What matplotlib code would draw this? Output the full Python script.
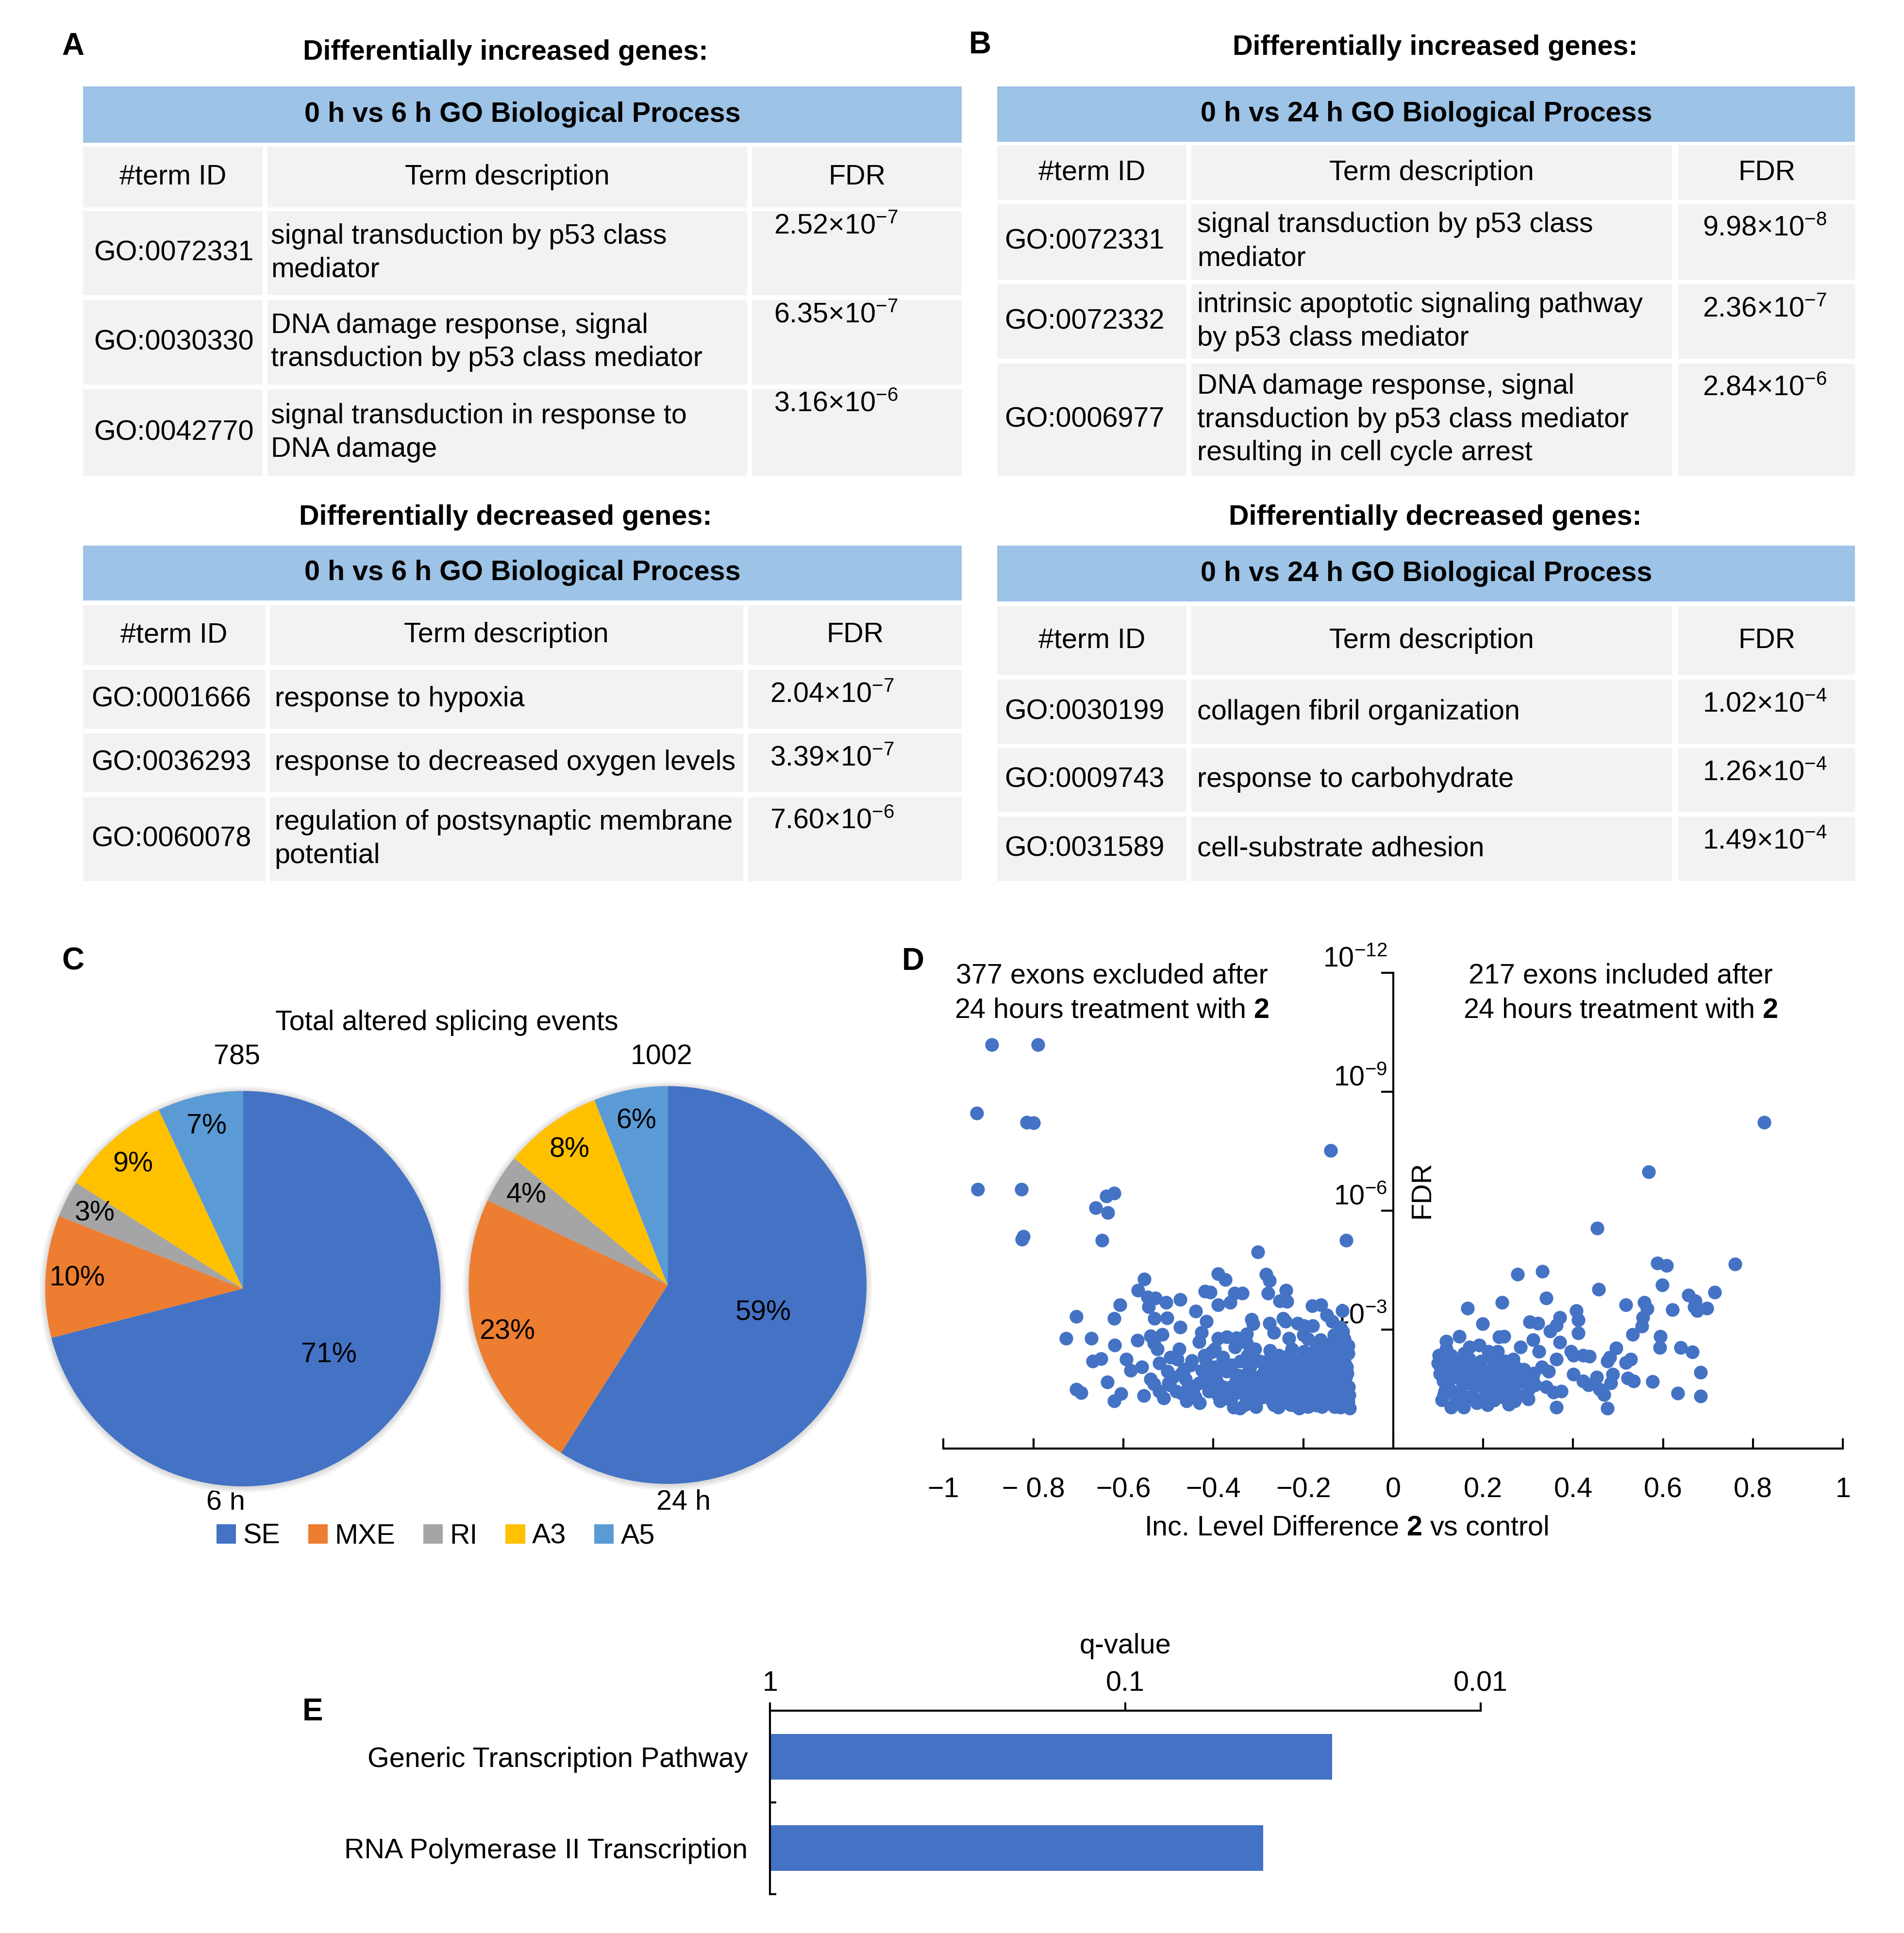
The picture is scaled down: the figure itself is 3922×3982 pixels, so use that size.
import numpy as np
import matplotlib.pyplot as plt
from matplotlib.patches import Rectangle, Patch, Circle
from matplotlib.ticker import NullLocator

plt.rcParams['font.family'] = ['Liberation Sans', 'DejaVu Sans']
plt.rcParams['mathtext.fontset'] = 'custom'
plt.rcParams['mathtext.rm'] = 'Liberation Sans'
plt.rcParams['mathtext.it'] = 'Liberation Sans:italic'
plt.rcParams['mathtext.bf'] = 'Liberation Sans:bold'
plt.rcParams['mathtext.default'] = 'regular'

# ---- data ----
# GO tables
a_up_ids = ['GO:0072331', 'GO:0030330', 'GO:0042770']
a_up_desc = ['signal transduction by p53 class\nmediator',
             'DNA damage response, signal\ntransduction by p53 class mediator',
             'signal transduction in response to\nDNA damage']
a_up_mant = [2.52, 6.35, 3.16]
a_up_exp = [-7, -7, -6]

a_dn_ids = ['GO:0001666', 'GO:0036293', 'GO:0060078']
a_dn_desc = ['response to hypoxia', 'response to decreased oxygen levels',
             'regulation of postsynaptic membrane\npotential']
a_dn_mant = [2.04, 3.39, 7.60]
a_dn_exp = [-7, -7, -6]

b_up_ids = ['GO:0072331', 'GO:0072332', 'GO:0006977']
b_up_desc = ['signal transduction by p53 class\nmediator',
             'intrinsic apoptotic signaling pathway\nby p53 class mediator',
             'DNA damage response, signal\ntransduction by p53 class mediator\nresulting in cell cycle arrest']
b_up_mant = [9.98, 2.36, 2.84]
b_up_exp = [-8, -7, -6]

b_dn_ids = ['GO:0030199', 'GO:0009743', 'GO:0031589']
b_dn_desc = ['collagen fibril organization', 'response to carbohydrate', 'cell-substrate adhesion']
b_dn_mant = [1.02, 1.26, 1.49]
b_dn_exp = [-4, -4, -4]

# splicing pies
splice_types = ['SE', 'MXE', 'RI', 'A3', 'A5']
pct_6h = [71, 10, 3, 9, 7]
pct_24h = [59, 23, 4, 8, 6]
total_events = [785, 1002]
time_points = ['6 h', '24 h']
pie_colors = ['#4472C4', '#ED7D31', '#A5A5A5', '#FFC000', '#5B9BD5']

# volcano: (inc. level difference, -log10 FDR)
excluded = [
    (-0.892, 10.18), (-0.790, 10.18), (-0.926, 8.46), (-0.815, 8.23), (-0.800, 8.21), (-0.139, 7.52),
    (-0.924, 6.54), (-0.827, 6.54), (-0.638, 6.36), (-0.620, 6.44), (-0.661, 6.07), (-0.634, 5.95),
    (-0.826, 5.28), (-0.822, 5.35), (-0.647, 5.25), (-0.104, 5.25), (-0.301, 4.96), (-0.389, 4.41),
    (-0.373, 4.26), (-0.283, 4.39), (-0.275, 4.23), (-0.554, 4.27), (-0.568, 3.99), (-0.546, 3.82),
    (-0.529, 3.79), (-0.505, 3.69), (-0.474, 3.76), (-0.419, 3.97), (-0.407, 3.94), (-0.353, 3.92),
    (-0.336, 3.92), (-0.278, 3.92), (-0.238, 3.99), (-0.252, 3.72), (-0.236, 3.71), (-0.608, 3.62),
    (-0.544, 3.57), (-0.389, 3.62), (-0.363, 3.69), (-0.180, 3.60), (-0.161, 3.62), (-0.113, 3.48),
    (-0.705, 3.33), (-0.621, 3.28), (-0.531, 3.28), (-0.503, 3.29), (-0.439, 3.46), (-0.415, 3.21),
    (-0.315, 3.26), (-0.312, 3.14), (-0.275, 3.16), (-0.245, 3.28), (-0.239, 3.21), (-0.212, 3.16),
    (-0.198, 3.10), (-0.179, 3.10), (-0.148, 3.36), (-0.136, 3.21), (-0.118, 3.06),
    (-0.727, 2.78), (-0.671, 2.78), (-0.619, 2.61), (-0.569, 2.73), (-0.540, 2.84), (-0.514, 2.88),
    (-0.474, 3.06), (-0.432, 2.69), (-0.426, 2.92), (-0.389, 2.78), (-0.397, 2.51), (-0.370, 2.81),
    (-0.349, 2.79), (-0.326, 2.89), (-0.326, 2.66), (-0.265, 2.92), (-0.232, 2.78), (-0.199, 2.86),
    (-0.190, 2.76), (-0.162, 2.74), (-0.157, 2.61), (-0.132, 2.86), (-0.109, 2.76), (-0.668, 2.20),
    (-0.650, 2.27), (-0.594, 2.25), (-0.584, 1.97), (-0.559, 2.05), (-0.532, 2.66), (-0.524, 2.51),
    (-0.520, 2.15), (-0.502, 1.95), (-0.495, 2.30), (-0.476, 2.51), (-0.465, 2.00), (-0.448, 2.22),
    (-0.425, 1.97), (-0.418, 2.25), (-0.404, 2.43), (-0.397, 2.05), (-0.379, 2.30), (-0.352, 2.56),
    (-0.359, 2.10), (-0.324, 2.35), (-0.318, 2.05), (-0.308, 2.51), (-0.297, 2.20), (-0.289, 1.90),
    (-0.274, 2.47), (-0.265, 2.15), (-0.249, 2.30), (-0.242, 2.00), (-0.225, 2.51), (-0.217, 2.15),
    (-0.203, 1.90), (-0.194, 2.35), (-0.180, 2.05), (-0.173, 2.51), (-0.159, 2.20), (-0.153, 1.90),
    (-0.143, 2.40), (-0.132, 2.05), (-0.124, 2.56), (-0.115, 2.25), (-0.107, 1.95), (-0.100, 2.40),
    (-0.705, 1.49), (-0.694, 1.41), (-0.636, 1.68), (-0.605, 1.38), (-0.621, 1.20), (-0.555, 1.34),
    (-0.532, 1.63), (-0.510, 1.27), (-0.497, 1.60), (-0.482, 1.44), (-0.462, 1.75), (-0.445, 1.49),
    (-0.432, 1.65), (-0.410, 1.44), (-0.393, 1.70), (-0.379, 1.55), (-0.359, 1.29), (-0.355, 1.04),
    (-0.341, 1.02), (-0.331, 1.65), (-0.318, 1.39), (-0.304, 1.19), (-0.294, 1.55), (-0.276, 1.70),
    (-0.269, 1.34), (-0.256, 1.04), (-0.245, 1.49), (-0.235, 1.24), (-0.225, 1.65), (-0.214, 1.39),
    (-0.209, 1.02), (-0.198, 1.19), (-0.187, 1.55), (-0.176, 1.29), (-0.169, 1.09), (-0.159, 1.70),
    (-0.153, 1.44), (-0.143, 1.14), (-0.135, 1.60), (-0.128, 1.29), (-0.118, 1.04), (-0.111, 1.75),
    (-0.104, 1.44), (-0.100, 1.19), (-0.097, 1.01),
    (-0.310, 1.80), (-0.300, 1.45), (-0.285, 2.05), (-0.280, 1.60), (-0.270, 1.20), (-0.260, 1.85),
    (-0.255, 2.35), (-0.250, 1.30), (-0.240, 1.75), (-0.230, 2.10), (-0.228, 1.10), (-0.220, 1.50),
    (-0.215, 1.85), (-0.205, 2.25), (-0.200, 1.35), (-0.195, 1.70), (-0.190, 1.05), (-0.185, 2.00),
    (-0.180, 1.45), (-0.175, 2.30), (-0.170, 1.80), (-0.165, 1.20), (-0.160, 2.45), (-0.155, 1.55),
    (-0.150, 2.10), (-0.145, 1.35), (-0.140, 1.85), (-0.138, 2.65), (-0.130, 1.05), (-0.125, 1.50),
    (-0.122, 2.00), (-0.120, 2.35), (-0.115, 1.70), (-0.110, 1.25), (-0.108, 2.15), (-0.105, 1.60),
    (-0.102, 1.90), (-0.100, 2.60), (-0.098, 1.35), (-0.112, 2.95), (-0.125, 1.12), (-0.135, 1.95),
    (-0.148, 1.65), (-0.158, 1.05), (-0.168, 2.15), (-0.178, 1.60), (-0.188, 1.25), (-0.198, 2.45),
    (-0.208, 1.60), (-0.218, 1.20), (-0.235, 1.95), (-0.245, 1.15), (-0.262, 1.55), (-0.275, 1.95),
    (-0.290, 1.30), (-0.305, 1.65), (-0.320, 1.15), (-0.335, 1.40), (-0.345, 1.85), (-0.360, 1.55),
    (-0.370, 1.95), (-0.385, 1.20), (-0.400, 1.55), (-0.420, 1.75), (-0.440, 1.30), (-0.455, 1.60),
    (-0.470, 1.40), (-0.490, 1.80), (-0.520, 1.45), (-0.540, 1.75),
    (-0.395, 1.85), (-0.380, 2.15), (-0.365, 1.25), (-0.350, 1.70), (-0.340, 2.20), (-0.330, 1.10),
    (-0.325, 1.90), (-0.315, 2.35), (-0.305, 1.05), (-0.295, 1.75), (-0.285, 1.40), (-0.275, 2.25),
    (-0.265, 1.10), (-0.260, 1.65), (-0.250, 2.05), (-0.240, 1.40), (-0.232, 2.35), (-0.222, 1.80),
    (-0.212, 1.05), (-0.205, 1.50), (-0.195, 2.15), (-0.185, 1.75), (-0.178, 1.10), (-0.172, 1.95),
    (-0.165, 1.45), (-0.155, 2.30), (-0.148, 1.15), (-0.142, 1.60), (-0.135, 2.20), (-0.128, 1.75),
    (-0.122, 1.35), (-0.118, 2.45), (-0.112, 1.10), (-0.106, 1.80), (-0.103, 2.05), (-0.099, 1.55),
    (-0.450, 2.10), (-0.430, 1.15), (-0.410, 2.00), (-0.390, 1.35), (-0.470, 1.90), (-0.500, 1.65),
    (-0.480, 2.25), (-0.460, 1.20), (-0.420, 2.35),
]
included = [
    (0.825, 8.23), (0.568, 6.98), (0.454, 5.56), (0.760, 4.65), (0.587, 4.68), (0.608, 4.61),
    (0.276, 4.40), (0.331, 4.47), (0.457, 4.02), (0.598, 4.13), (0.715, 3.94), (0.656, 3.87),
    (0.340, 3.79), (0.242, 3.69), (0.558, 3.69), (0.672, 3.72), (0.669, 3.57), (0.676, 3.48),
    (0.697, 3.54), (0.517, 3.62), (0.565, 3.52), (0.555, 3.31), (0.621, 3.50), (0.165, 3.54),
    (0.407, 3.48), (0.411, 3.24), (0.370, 3.31), (0.363, 3.11), (0.304, 3.19), (0.322, 3.16),
    (0.199, 3.14), (0.553, 3.09), (0.532, 2.88), (0.411, 2.91), (0.349, 2.96), (0.594, 2.83),
    (0.311, 2.74), (0.235, 2.81), (0.246, 2.83), (0.147, 2.83), (0.118, 2.71), (0.593, 2.54),
    (0.639, 2.54), (0.665, 2.43), (0.496, 2.53), (0.370, 2.68), (0.283, 2.56), (0.395, 2.45),
    (0.401, 2.35), (0.436, 2.32), (0.422, 2.35), (0.324, 2.45), (0.482, 2.30), (0.476, 2.20),
    (0.528, 2.25), (0.517, 2.17), (0.363, 2.25), (0.274, 2.03), (0.312, 1.90), (0.346, 1.95),
    (0.401, 1.87), (0.452, 1.80), (0.488, 1.87), (0.521, 1.77), (0.535, 1.70), (0.577, 1.69),
    (0.683, 1.92), (0.422, 1.70), (0.434, 1.60), (0.484, 1.65), (0.459, 1.49), (0.469, 1.36),
    (0.633, 1.39), (0.683, 1.32), (0.374, 1.44), (0.363, 1.04), (0.476, 1.02), (0.315, 1.60),
    (0.356, 1.42),
    (0.118, 2.51), (0.129, 2.35), (0.143, 2.15), (0.157, 1.95), (0.170, 2.25), (0.184, 2.05),
    (0.198, 1.80), (0.212, 2.45), (0.225, 2.15), (0.239, 1.90), (0.253, 1.65), (0.267, 2.25),
    (0.287, 1.80), (0.301, 1.49), (0.104, 1.89), (0.111, 1.70), (0.115, 1.44), (0.108, 1.22),
    (0.129, 1.04), (0.122, 1.55), (0.136, 1.80), (0.150, 1.39), (0.163, 1.65), (0.177, 1.29),
    (0.191, 1.60), (0.205, 1.39), (0.225, 1.22), (0.218, 1.65), (0.232, 1.49), (0.246, 1.29),
    (0.257, 1.11), (0.267, 1.49), (0.280, 1.34), (0.294, 1.65), (0.102, 2.35), (0.099, 2.15),
    (0.170, 2.56), (0.191, 2.61), (0.205, 1.95), (0.157, 1.04), (0.140, 1.22), (0.177, 1.84),
    (0.261, 2.00), (0.250, 2.20), (0.232, 2.45),
    (0.105, 2.05), (0.112, 1.35), (0.120, 1.95), (0.125, 2.20), (0.132, 1.45), (0.138, 1.15),
    (0.145, 1.90), (0.152, 1.70), (0.158, 2.40), (0.165, 1.30), (0.172, 2.05), (0.180, 1.55),
    (0.186, 1.15), (0.195, 2.20), (0.202, 1.70), (0.210, 1.10), (0.215, 1.85), (0.220, 2.30),
    (0.228, 1.40), (0.236, 1.75), (0.242, 2.05), (0.250, 1.35), (0.260, 1.80), (0.270, 1.20),
    (0.275, 1.65), (0.290, 2.00), (0.300, 1.25), (0.310, 1.75), (0.330, 2.05), (0.340, 1.55),
]
x_ticks_d = [-1, -0.8, -0.6, -0.4, -0.2, 0, 0.2, 0.4, 0.6, 0.8, 1]
x_ticklabels_d = ['\u22121', '\u2212 0.8', '\u22120.6', '\u22120.4', '\u22120.2', '0',
                  '0.2', '0.4', '0.6', '0.8', '1']
fdr_ticks = [1e-12, 1e-9, 1e-6, 1e-3]
fdr_ticklabels = ['10$^{-12}$', '10$^{-9}$', '10$^{-6}$', '10$^{-3}$']

# pathway enrichment
pathways = ['Generic Transcription Pathway', 'RNA Polymerase II Transcription']
qvals = [0.0262, 0.0409]

# ---- layout ----
FS = 13.8
W, H = 1560, 1584          # layout grid (reference scaled down)
BLUE_HEAD = '#9DC3E6'
GREY_CELL = '#F2F2F2'
DOT = '#4472C4'


def box(x0, y0, x1, y1):
    return [x0 / W, 1 - y1 / H, (x1 - x0) / W, (y1 - y0) / H]


fig = plt.figure(figsize=(3922 / 300, 3982 / 300), dpi=300)
lay = fig.add_axes([0, 0, 1, 1])
lay.set_xlim(0, W)
lay.set_ylim(H, 0)
lay.axis('off')


def draw_table(title, title_xy, head_txt, blue_y, cols, row_ys, ids, desc, mant, expo,
               id_x, desc_x, fdr_x, fdr_off):
    x0, x1 = cols[0][0], cols[-1][1]
    lay.text(title_xy[0], title_xy[1], title, ha='center', va='center', fontsize=FS, fontweight='bold')
    lay.add_patch(Rectangle((x0, blue_y[0]), x1 - x0, blue_y[1] - blue_y[0], color=BLUE_HEAD, lw=0))
    lay.text((x0 + x1) / 2, sum(blue_y) / 2, head_txt, ha='center', va='center',
             fontsize=FS, fontweight='bold')
    for ya, yb in row_ys:
        for xa, xb in cols:
            lay.add_patch(Rectangle((xa, ya), xb - xa, yb - ya, color=GREY_CELL, lw=0))
    hy = sum(row_ys[0]) / 2
    for (xa, xb), h in zip(cols, ['#term ID', 'Term description', 'FDR']):
        lay.text((xa + xb) / 2, hy, h, ha='center', va='center', fontsize=FS)
    for (ya, yb), gid, d, m, e in zip(row_ys[1:], ids, desc, mant, expo):
        yc = (ya + yb) / 2
        lay.text(id_x, yc, gid, ha='left', va='center', fontsize=FS)
        lay.text(desc_x, yc, d, ha='left', va='center', fontsize=FS, linespacing=1.35)
        lay.text(fdr_x, ya + fdr_off, f'{m:.2f}\u00d710$^{{{e}}}$', ha='left', va='center', fontsize=FS)


# A
draw_table('Differentially increased genes:', (414, 43), '0 h vs 6 h GO Biological Process',
           (71, 117), [(68, 215), (219, 612), (616, 788)],
           [(120, 170), (173, 242), (246, 315), (319, 390)],
           a_up_ids, a_up_desc, a_up_mant, a_up_exp, 77, 222, 634, 12)
draw_table('Differentially decreased genes:', (414, 424), '0 h vs 6 h GO Biological Process',
           (447, 492), [(68, 217), (221, 609), (613, 788)],
           [(496, 545), (549, 597), (601, 649), (653, 722)],
           a_dn_ids, a_dn_desc, a_dn_mant, a_dn_exp, 75, 225, 631, 20)
# B
draw_table('Differentially increased genes:', (1176, 39), '0 h vs 24 h GO Biological Process',
           (71, 116), [(817, 972), (976, 1370), (1375, 1520)],
           [(119, 164), (167, 229), (233, 294), (298, 390)],
           b_up_ids, b_up_desc, b_up_mant, b_up_exp, 823, 981, 1395, 20)
draw_table('Differentially decreased genes:', (1176, 424), '0 h vs 24 h GO Biological Process',
           (447, 493), [(817, 972), (976, 1370), (1375, 1520)],
           [(497, 553), (557, 610), (613, 665), (669, 722)],
           b_dn_ids, b_dn_desc, b_dn_mant, b_dn_exp, 823, 981, 1395, 20)

for letter, (lx, ly) in zip('ABCDE', [(60, 38), (803, 37), (60, 788), (748, 788), (256, 1403)]):
    lay.text(lx, ly, letter, ha='center', va='center', fontsize=FS + 1.5, fontweight='bold')

# C - pies
lay.text(366, 838, 'Total altered splicing events', ha='center', va='center', fontsize=FS)
pie_geo = [(199, 1056, 162, 0.55), (547, 1053, 163, 0.50)]
for vals, total, tp, (cx, cy, r, se_d) in zip([pct_6h, pct_24h], total_events, time_points, pie_geo):
    pad = 1.3
    ax = fig.add_axes(box(cx - pad * r, cy - pad * r, cx + pad * r, cy + pad * r))
    wedges, _, autotexts = ax.pie(vals, colors=pie_colors, startangle=90, counterclock=False,
                                  autopct=lambda p: f'{p:.0f}%', pctdistance=0.84,
                                  wedgeprops=dict(linewidth=0), textprops=dict(fontsize=FS))
    # soft shadow around the pie
    for rr, col in [(1.028, '#f4f4f4'), (1.018, '#e8e8e8'), (1.008, '#dcdcdc')]:
        ax.add_patch(Circle((0, -0.004), rr, color=col, zorder=0, lw=0))
    ang = np.deg2rad((wedges[0].theta1 + wedges[0].theta2) / 2)
    autotexts[0].set_position((se_d * np.cos(ang), se_d * np.sin(ang)))
    ax.set_xlim(-pad, pad)
    ax.set_ylim(-pad, pad)
    lay.text(cx - 5, 866, str(total), ha='center', va='center', fontsize=FS)
    lay.text(cx + (-14 if tp == '6 h' else 13), 1231, tp, ha='center', va='center', fontsize=FS)

handles = [Patch(facecolor=c, edgecolor='none') for c in pie_colors]
fig.legend(handles, splice_types, loc='center', bbox_to_anchor=(357 / W, 1 - 1259 / H), ncol=5,
           frameon=False, fontsize=FS, handlelength=0.7, handleheight=0.7, handletextpad=0.25,
           columnspacing=1.0, borderpad=0)

# D - volcano
ax = fig.add_axes(box(773, 797, 1510, 1187))
for pts in [excluded, included]:
    dx = [p[0] for p in pts]
    fdr = [10.0 ** (-p[1]) for p in pts]
    ax.scatter(dx, fdr, s=46, color=DOT, linewidths=0, zorder=3)
ax.set_yscale('log')
ax.set_xlim(-1, 1)
ax.set_ylim(1, 1e-12)
ax.spines['left'].set_position(('data', 0))
ax.spines[['top', 'right']].set_visible(False)
ax.spines[['left', 'bottom']].set_linewidth(1.0)
ax.set_xticks(x_ticks_d)
ax.set_xticklabels(x_ticklabels_d, fontsize=FS)
ax.tick_params(axis='x', direction='in', length=5, width=1.0, pad=14)
ax.set_yticks(fdr_ticks)
ax.set_yticklabels(fdr_ticklabels, fontsize=FS)
ax.yaxis.set_minor_locator(NullLocator())
ax.tick_params(axis='y', direction='out', length=6, width=1.0, pad=-3)
for t in ax.get_yticklabels():
    t.set_va('bottom')
ax.patch.set_alpha(0)
lay.text(1165, 975, 'FDR', rotation=90, ha='center', va='center', fontsize=FS)
lay.text(911, 814, '377 exons excluded after\n24 hours treatment with $\\mathbf{2}$',
         ha='center', va='center', fontsize=FS, linespacing=1.4)
lay.text(1328, 814, '217 exons included after\n24 hours treatment with $\\mathbf{2}$',
         ha='center', va='center', fontsize=FS, linespacing=1.4)
lay.text(1103, 1252, 'Inc. Level Difference $\\mathbf{2}$ vs control', ha='center', va='center', fontsize=FS)

# E - pathway bars
ax = fig.add_axes(box(631, 1402, 1213, 1552))
ypos = np.arange(len(pathways))
ax.barh(ypos, [q - 1 for q in qvals], left=1, height=0.5, color=DOT)
ax.set_xscale('log')
ax.set_xlim(1, 0.01)
ax.set_ylim(1.5, -0.5)
ax.xaxis.tick_top()
ax.set_xticks([1, 0.1, 0.01])
ax.set_xticklabels(['1', '0.1', '0.01'], fontsize=FS)
ax.xaxis.set_minor_locator(NullLocator())
ax.tick_params(axis='x', direction='out', length=4, width=1.0, pad=3)
ax.spines[['bottom', 'right']].set_visible(False)
ax.spines[['top', 'left']].set_linewidth(1.0)
ax.set_yticks(ypos)
ax.set_yticklabels(pathways, fontsize=FS)
ax.tick_params(axis='y', length=0, pad=11)
ax.set_yticks([0.5, 1.5], minor=True)
ax.tick_params(axis='y', which='minor', direction='in', length=3, width=1.0)
lay.text(922, 1349, 'q-value', ha='center', va='center', fontsize=FS)

fig.savefig('out.png', dpi=300)
